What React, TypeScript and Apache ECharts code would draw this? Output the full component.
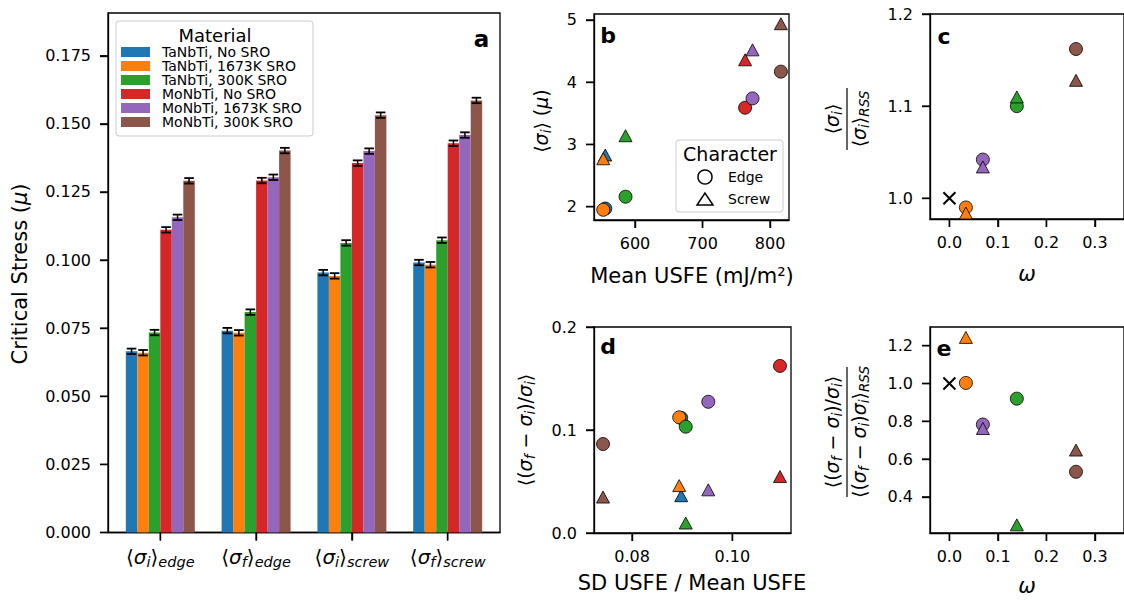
import React, { useEffect, useRef } from "react";
import * as echarts from "echarts";

const FONT = "'DejaVu Sans', 'Noto Sans', sans-serif";

// ---------- shared ----------
const materials = [
  "TaNbTi, No SRO",
  "TaNbTi, 1673K SRO",
  "TaNbTi, 300K SRO",
  "MoNbTi, No SRO",
  "MoNbTi, 1673K SRO",
  "MoNbTi, 300K SRO",
];
const materialColors = ["#1f77b4", "#ff7f0e", "#2ca02c", "#d62728", "#9467bd", "#8c564b"];

// ---------- panel a ----------
const categorySigma = ["i", "f", "i", "f"];
const categoryCharacter = ["edge", "edge", "screw", "screw"];
const categoryPositions = [0, 1, 2, 3];
const stressTicks = [0, 0.025, 0.05, 0.075, 0.1, 0.125, 0.15, 0.175];

const stressTaNoSRO = [0.0665, 0.0741, 0.0954, 0.0991];
const stressTa1673 = [0.066, 0.0733, 0.0942, 0.0983];
const stressTa300 = [0.0734, 0.0809, 0.1063, 0.1073];
const stressMoNoSRO = [0.1111, 0.1292, 0.1356, 0.1429];
const stressMo1673 = [0.1157, 0.1304, 0.14, 0.1459];
const stressMo300 = [0.1291, 0.1402, 0.1532, 0.1586];

const errTaNoSRO = [0.001, 0.001, 0.001, 0.001];
const errTa1673 = [0.001, 0.001, 0.001, 0.001];
const errTa300 = [0.001, 0.001, 0.001, 0.001];
const errMoNoSRO = [0.001, 0.001, 0.001, 0.001];
const errMo1673 = [0.001, 0.001, 0.001, 0.001];
const errMo300 = [0.001, 0.001, 0.001, 0.001];

// ---------- panel b ----------
const meanUSFE = [556, 553, 586, 763, 774, 816];
const sigmaIEdge = [1.97, 1.95, 2.16, 3.59, 3.74, 4.17];
const sigmaIScrew = [2.83, 2.77, 3.14, 4.36, 4.52, 4.94];
const bXTicks = [600, 700, 800];
const bYTicks = [2, 3, 4, 5];

// ---------- panel d ----------
const sdOverMean = [0.0898, 0.0894, 0.0907, 0.1095, 0.0952, 0.0742];
const relChangeEdge = [0.1117, 0.1123, 0.1032, 0.1622, 0.1274, 0.0864];
const relChangeScrew = [0.0362, 0.046, 0.0097, 0.0548, 0.0419, 0.0349];
const dXTicks = [0.08, 0.1];
const dYTicks = [0, 0.1, 0.2];

// ---------- panels c, e (SRO materials only) ----------
const sroMaterialIndex = [1, 2, 4, 5];
const omegaSRO = [0.034, 0.139, 0.069, 0.261];
const ratioEdgeC = [0.99, 1.1, 1.042, 1.162];
const ratioScrewC = [0.984, 1.11, 1.034, 1.128];
const ratioEdgeE = [1.003, 0.92, 0.783, 0.533];
const ratioScrewE = [1.244, 0.252, 0.762, 0.648];
const rssReference = [0, 1.0];
const omegaTicks = [0, 0.1, 0.2, 0.3];
const cYTicks = [1.0, 1.1, 1.2];
const eYTicks = [0.4, 0.6, 0.8, 1.0, 1.2];

const stressSeries = [stressTaNoSRO, stressTa1673, stressTa300, stressMoNoSRO, stressMo1673, stressMo300];
const errSeries = [errTaNoSRO, errTa1673, errTa300, errMoNoSRO, errMo1673, errMo300];

// axis ranges [xMin, xMax, yMin, yMax] per panel a..e
const ranges = [
  [-0.546, 3.546, 0, 0.1907],
  [539.3, 828, 1.786, 5.096],
  [-0.04, 0.36, 0.9775, 1.2],
  [0.0724, 0.1117, 0, 0.2],
  [-0.04, 0.36, 0.209, 1.299],
];
const xTickSets = [categoryPositions, bXTicks, omegaTicks, dXTicks, omegaTicks];
const yTickSets = [stressTicks, bYTicks, cYTicks, dYTicks, eYTicks];
const xDigits = [0, 0, 1, 2, 1];
const yDigits = [3, 0, 1, 1, 1];

const BAR_W = 0.12;
const TICK_LEN = 8;

function mathRich(size: number, sub: number) {
  return {
    b: { fontSize: size, fontFamily: FONT, color: "#000" },
    g: { fontSize: size, fontFamily: FONT, fontStyle: "italic", color: "#000" },
    s: { fontSize: sub, fontFamily: FONT, fontStyle: "italic", color: "#000", padding: [10, 0, 0, 0] },
  };
}

function valueAxis(gridIndex: number, min: number, max: number, ticks: number[], digits: number, margin: number) {
  return {
    type: "value",
    gridIndex,
    min,
    max,
    axisLine: { show: true, onZero: false, lineStyle: { color: "#000", width: 1.3 } },
    splitLine: { show: false },
    axisTick: { show: true, customValues: ticks, length: TICK_LEN, lineStyle: { color: "#000", width: 1.4 } },
    axisLabel: {
      show: true,
      customValues: ticks,
      formatter: (v: number) => v.toFixed(digits),
      color: "#000",
      fontSize: 16,
      fontFamily: FONT,
      margin,
    },
  };
}

function buildOption() {
  const gridStyle = { show: true, borderColor: "#000", borderWidth: 1.3 };
  const grids = [
    { left: 108, top: 13, width: 392, height: 519.5, ...gridStyle },
    { left: 594, top: 14, width: 195, height: 206, ...gridStyle },
    { left: 930, top: 14, width: 202, height: 205, ...gridStyle },
    { left: 594, top: 327, width: 197, height: 206, ...gridStyle },
    { left: 930, top: 327, width: 202, height: 206, ...gridStyle },
  ];

  const XM = 15;
  const YM = 17;
  const xAxes: any[] = ranges.map((r, p) => valueAxis(p, r[0], r[1], xTickSets[p], xDigits[p], XM));
  const yAxes: any[] = ranges.map((r, p) => valueAxis(p, r[2], r[3], yTickSets[p], yDigits[p], YM));
  xAxes[0].axisLabel = {
    show: true,
    customValues: categoryPositions,
    margin: 12,
    formatter: (v: number) => {
      const i = Math.round(v);
      return `{b|⟨}{g|σ}{s|${categorySigma[i]}}{b|⟩}{s|${categoryCharacter[i]}}`;
    },
    rich: mathRich(20, 14.5),
  };

  const series: any[] = [];

  // tick marks, placed through each panel's axes
  ranges.forEach((r, p) => {
    const data = [
      ...xTickSets[p].map((v) => [v, r[2], 0]),
      ...yTickSets[p].map((v) => [r[0], v, 1]),
    ];
    series.push({
      type: "custom",
      name: `ticks-${p}`,
      xAxisIndex: p,
      yAxisIndex: p,
      clip: false,
      silent: true,
      z: 5,
      encode: { x: 0, y: 1 },
      data,
      renderItem: (params: any, api: any) => {
        const pt = api.coord([api.value(0), api.value(1)]);
        const isY = api.value(2) === 1;
        const shape = isY
          ? { x1: pt[0] - TICK_LEN, y1: pt[1], x2: pt[0], y2: pt[1] }
          : { x1: pt[0], y1: pt[1], x2: pt[0], y2: pt[1] + TICK_LEN };
        return { type: "line", shape, style: { stroke: "#000", lineWidth: 1.4 } };
      },
    });
  });

  materials.forEach((name, k) => {
    const color = materialColors[k];
    series.push({
      type: "custom",
      name,
      xAxisIndex: 0,
      yAxisIndex: 0,
      itemStyle: { color },
      silent: true,
      encode: { x: 0, y: 1 },
      data: stressSeries[k].map((v, i) => [categoryPositions[i], v, errSeries[k][i]]),
      renderItem: (params: any, api: any) => {
        const c = api.value(0) + (k - 2.5) * BAR_W;
        const v = api.value(1);
        const e = api.value(2);
        const bl = api.coord([c - BAR_W / 2, 0]);
        const tr = api.coord([c + BAR_W / 2, v]);
        const top = api.coord([c, v + e]);
        const bot = api.coord([c, v - e]);
        const cap = 4.8;
        return {
          type: "group",
          children: [
            {
              type: "rect",
              shape: { x: bl[0], y: tr[1], width: tr[0] - bl[0], height: bl[1] - tr[1] },
              style: { fill: color },
            },
            { type: "line", shape: { x1: top[0], y1: top[1], x2: bot[0], y2: bot[1] }, style: { stroke: "#000", lineWidth: 1.5 } },
            { type: "line", shape: { x1: top[0] - cap, y1: top[1], x2: top[0] + cap, y2: top[1] }, style: { stroke: "#000", lineWidth: 1.8 } },
            { type: "line", shape: { x1: bot[0] - cap, y1: bot[1], x2: bot[0] + cap, y2: bot[1] }, style: { stroke: "#000", lineWidth: 1.8 } },
          ],
        };
      },
    });
  });

  const addScatter = (panel: number, name: string, data: number[][], symbol: string, size: any, color: string) => {
    series.push({
      type: "scatter",
      name,
      xAxisIndex: panel,
      yAxisIndex: panel,
      data,
      symbol,
      symbolSize: size,
      silent: true,
      itemStyle: { color, borderColor: "#000", borderWidth: 0.8, opacity: 1 },
      z: 3,
    });
  };
  const CIRCLE = 13;
  const TRI = [13, 12];
  const XMARK = "path://M0,0L10,10M10,0L0,10";

  materials.forEach((_, k) => {
    addScatter(1, `b-edge-${k}`, [[meanUSFE[k], sigmaIEdge[k]]], "circle", CIRCLE, materialColors[k]);
    addScatter(1, `b-screw-${k}`, [[meanUSFE[k], sigmaIScrew[k]]], "triangle", TRI, materialColors[k]);
  });
  materials.forEach((_, k) => {
    addScatter(3, `d-edge-${k}`, [[sdOverMean[k], relChangeEdge[k]]], "circle", CIRCLE, materialColors[k]);
    addScatter(3, `d-screw-${k}`, [[sdOverMean[k], relChangeScrew[k]]], "triangle", TRI, materialColors[k]);
  });
  [2, 4].forEach((panel) => {
    series.push({
      type: "scatter",
      name: `rss-${panel}`,
      xAxisIndex: panel,
      yAxisIndex: panel,
      data: [rssReference],
      symbol: XMARK,
      symbolSize: 12,
      silent: true,
      itemStyle: { color: "transparent", borderColor: "#000", borderWidth: 2, opacity: 1 },
      z: 3,
    });
  });
  sroMaterialIndex.forEach((k, j) => {
    addScatter(2, `c-edge-${k}`, [[omegaSRO[j], ratioEdgeC[j]]], "circle", CIRCLE, materialColors[k]);
    addScatter(2, `c-screw-${k}`, [[omegaSRO[j], ratioScrewC[j]]], "triangle", TRI, materialColors[k]);
    addScatter(4, `e-edge-${k}`, [[omegaSRO[j], ratioEdgeE[j]]], "circle", CIRCLE, materialColors[k]);
    addScatter(4, `e-screw-${k}`, [[omegaSRO[j], ratioScrewE[j]]], "triangle", TRI, materialColors[k]);
  });

  const txt = (x: number, y: number, text: string, extra: any = {}, rot = 0) => ({
    type: "text",
    x,
    y,
    rotation: rot,
    z: 30,
    style: { text, fontFamily: FONT, fill: "#000", align: "center", verticalAlign: "middle", fontSize: 21, ...extra },
  });

  const R19 = mathRich(19, 13.5);
  const numE = "{b|⟨(}{g|σ}{s|f}{b| − }{g|σ}{s|i}{b|)/}{g|σ}{s|i}{b|⟩}";
  const denE = "{b|⟨(}{g|σ}{s|f}{b| − }{g|σ}{s|i}{b|)}{g|σ}{s|i}{b|⟩}{s|RSS}";

  const graphic: any[] = [
    {
      type: "rect",
      z: 1,
      shape: { x: 116, y: 21, width: 197, height: 115, r: 3 },
      style: { fill: "rgba(255,255,255,0.8)", stroke: "#cccccc", lineWidth: 1 },
    },
    txt(215, 35, "Material", { fontSize: 18 }),
    {
      type: "rect",
      z: 1,
      shape: { x: 676, y: 140, width: 107, height: 72, r: 3 },
      style: { fill: "rgba(255,255,255,0.8)", stroke: "#cccccc", lineWidth: 1 },
    },
    txt(730, 154, "Character", { fontSize: 19 }),
    { type: "circle", z: 30, shape: { cx: 705, cy: 177, r: 7 }, style: { fill: "none", stroke: "#000", lineWidth: 1.5 } },
    {
      type: "polygon",
      z: 30,
      shape: { points: [[705, 193], [697, 205], [713, 205]] },
      style: { fill: "none", stroke: "#000", lineWidth: 1.5 },
    },
    txt(728, 177, "Edge", { fontSize: 14, align: "left" }),
    txt(728, 199, "Screw", { fontSize: 14, align: "left" }),
    txt(481.5, 38.5, "a", { fontSize: 23, fontWeight: "bold" }),
    txt(608, 35, "b", { fontSize: 22, fontWeight: "bold" }),
    txt(944, 36, "c", { fontSize: 22, fontWeight: "bold" }),
    txt(608, 346, "d", { fontSize: 22, fontWeight: "bold" }),
    txt(944, 348, "e", { fontSize: 22, fontWeight: "bold" }),
    txt(20, 274, "{b|Critical Stress (}{g|μ}{b|)}", { rich: mathRich(21, 14) }, Math.PI / 2),
    txt(541, 121, "{b|⟨}{g|σ}{s|i}{b|⟩ (}{g|μ}{b|)}", { rich: R19 }, Math.PI / 2),
    txt(692, 276, "Mean USFE (mJ/m²)"),
    txt(1027, 274, "ω", { fontStyle: "italic" }),
    txt(525, 430, numE, { rich: R19 }, Math.PI / 2),
    txt(692, 583, "SD USFE / Mean USFE"),
    txt(1027, 586, "ω", { fontStyle: "italic" }),
    {
      type: "group",
      x: 847,
      y: 119,
      rotation: Math.PI / 2,
      children: [
        txt(0, -15, "{b|⟨}{g|σ}{s|i}{b|⟩}", { rich: R19 }),
        { type: "line", z: 30, shape: { x1: -31, y1: 0, x2: 31, y2: 0 }, style: { stroke: "#000", lineWidth: 1.2 } },
        txt(0, 12, "{b|⟨}{g|σ}{s|i}{b|⟩}{s|RSS}", { rich: R19 }),
      ],
    },
    {
      type: "group",
      x: 847,
      y: 432,
      rotation: Math.PI / 2,
      children: [
        txt(0, -15, numE, { rich: R19 }),
        { type: "line", z: 30, shape: { x1: -65, y1: 0, x2: 65, y2: 0 }, style: { stroke: "#000", lineWidth: 1.2 } },
        txt(0, 12, denE, { rich: R19 }),
      ],
    },
  ];

  return {
    animation: false,
    backgroundColor: "#ffffff",
    textStyle: { fontFamily: FONT },
    grid: grids,
    xAxis: xAxes,
    yAxis: yAxes,
    legend: {
      show: true,
      orient: "vertical",
      left: 121,
      top: 45,
      padding: 0,
      itemGap: 0,
      itemWidth: 29,
      itemHeight: 10,
      icon: "rect",
      selectedMode: false,
      z: 20,
      formatter: (n: string) => `{g| }{t|${n}}`,
      textStyle: {
        fontFamily: FONT,
        fontSize: 14,
        lineHeight: 14,
        color: "#000",
        rich: { g: { width: 7, fontSize: 14 }, t: { fontSize: 14, fontFamily: FONT, color: "#000" } },
      },
      data: materials.map((n, k) => ({ name: n, itemStyle: { color: materialColors[k] } })),
    },
    graphic,
    series,
  };
}

export default function App() {
  const ref = useRef<HTMLDivElement>(null);
  useEffect(() => {
    if (!ref.current) return;
    const chart = echarts.init(ref.current, undefined, { renderer: "svg" });
    chart.setOption(buildOption() as any);
    return () => chart.dispose();
  }, []);
  return (
    <div
      ref={ref}
      style={{ position: "fixed", left: 0, top: 0, width: 1124, height: 602, background: "#fff" }}
    />
  );
}
